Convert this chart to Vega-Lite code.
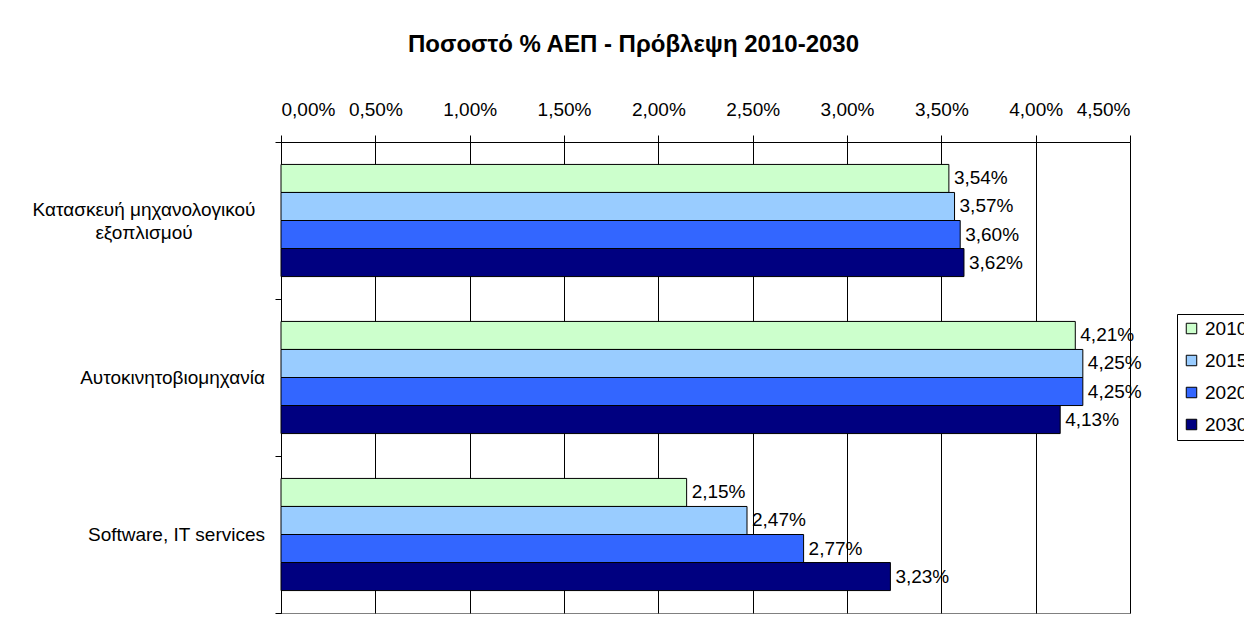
{
  "$schema": "https://vega.github.io/schema/vega-lite/v6.json",
  "width": 849,
  "height": 471,
  "autosize": {"type": "none"},
  "padding": {"left": 281, "top": 142, "right": 114, "bottom": 9},
  "background": "white",
  "config": {
    "font": "Liberation Sans",
    "locale": {"number": {"decimal": ",", "thousands": ".", "grouping": [3], "currency": ["", " €"]}},
    "view": {"stroke": "#808080", "strokeWidth": 1}
  },
  "title": {
    "text": "Ποσοστό % ΑΕΠ - Πρόβλεψη 2010-2030",
    "font": "Liberation Sans",
    "fontSize": 24,
    "fontWeight": "bold",
    "color": "#000000",
    "anchor": "middle",
    "dx": -72,
    "offset": 43
  },
  "datasets": {
    "bars": [
      {"sector": "Κατασκευή μηχανολογικού εξοπλισμού", "year": "2010", "value": 0.0354},
      {"sector": "Κατασκευή μηχανολογικού εξοπλισμού", "year": "2015", "value": 0.0357},
      {"sector": "Κατασκευή μηχανολογικού εξοπλισμού", "year": "2020", "value": 0.0360},
      {"sector": "Κατασκευή μηχανολογικού εξοπλισμού", "year": "2030", "value": 0.0362},
      {"sector": "Αυτοκινητοβιομηχανία", "year": "2010", "value": 0.0421},
      {"sector": "Αυτοκινητοβιομηχανία", "year": "2015", "value": 0.0425},
      {"sector": "Αυτοκινητοβιομηχανία", "year": "2020", "value": 0.0425},
      {"sector": "Αυτοκινητοβιομηχανία", "year": "2030", "value": 0.0413},
      {"sector": "Software, IT services", "year": "2010", "value": 0.0215},
      {"sector": "Software, IT services", "year": "2015", "value": 0.0247},
      {"sector": "Software, IT services", "year": "2020", "value": 0.0277},
      {"sector": "Software, IT services", "year": "2030", "value": 0.0323}
    ],
    "labels": [
      {"sector": "Κατασκευή μηχανολογικού εξοπλισμού", "label": "Κατασκευή μηχανολογικού\nεξοπλισμού", "wrap": "yes"},
      {"sector": "Αυτοκινητοβιομηχανία", "label": "Αυτοκινητοβιομηχανία", "wrap": "no"},
      {"sector": "Software, IT services", "label": "Software, IT services", "wrap": "no"}
    ]
  },
  "layer": [
    {
      "data": {"name": "bars"},
      "mark": {"type": "bar", "stroke": "#000000", "strokeWidth": 1},
      "encoding": {
        "y": {
          "field": "sector", "type": "nominal",
          "sort": ["Κατασκευή μηχανολογικού εξοπλισμού", "Αυτοκινητοβιομηχανία", "Software, IT services"],
          "scale": {"paddingInner": 0, "paddingOuter": 0},
          "axis": {
            "title": null, "labels": false, "tickBand": "extent", "tickSize": 6,
            "tickColor": "#000000", "domainColor": "#000000", "grid": false
          }
        },
        "yOffset": {
          "field": "year", "type": "nominal",
          "sort": ["2010", "2015", "2020", "2030"],
          "scale": {"paddingInner": 0, "paddingOuter": 0.8}
        },
        "x": {
          "field": "value", "type": "quantitative",
          "scale": {"domain": [0, 0.045], "nice": false},
          "axis": {
            "orient": "top", "title": null, "format": ".2%", "values": [0, 0.005, 0.01, 0.015, 0.02, 0.025, 0.03, 0.035, 0.04, 0.045],
            "labelFontSize": 19, "labelColor": "#000000", "labelFont": "Liberation Sans",
            "tickSize": 7, "tickColor": "#000000", "labelPadding": 16,
            "domainColor": "#000000", "grid": true, "gridColor": "#000000", "gridOpacity": 1
          }
        },
        "color": {
          "field": "year", "type": "nominal",
          "scale": {"domain": ["2010", "2015", "2020", "2030"], "range": ["#CCFFCC", "#99CCFF", "#3366FF", "#000080"]},
          "legend": {
            "title": null, "orient": "none", "legendX": 896, "legendY": 172,
            "symbolType": "square", "symbolSize": 110, "symbolStrokeColor": "#000000", "symbolStrokeWidth": 1,
            "labelFontSize": 19, "labelColor": "#000000", "labelFont": "Liberation Sans",
            "rowPadding": 12, "padding": 5, "strokeColor": "#000000", "fillColor": "white", "labelOffset": 4
          }
        }
      }
    },
    {
      "data": {"name": "bars"},
      "mark": {"type": "text", "align": "left", "baseline": "middle", "dx": 5, "fontSize": 19, "color": "#000000", "font": "Liberation Sans"},
      "encoding": {
        "y": {"field": "sector", "type": "nominal", "sort": ["Κατασκευή μηχανολογικού εξοπλισμού", "Αυτοκινητοβιομηχανία", "Software, IT services"]},
        "yOffset": {"field": "year", "type": "nominal", "sort": ["2010", "2015", "2020", "2030"]},
        "x": {"field": "value", "type": "quantitative"},
        "text": {"field": "value", "type": "quantitative", "format": ".2%"}
      }
    },
    {
      "data": {"name": "labels"},
      "transform": [{"filter": "datum.wrap == 'yes'"}],
      "mark": {"type": "text", "align": "center", "baseline": "middle", "dx": -137, "dy": -11, "fontSize": 19, "lineHeight": 23, "lineBreak": "\n", "color": "#000000", "font": "Liberation Sans"},
      "encoding": {
        "y": {"field": "sector", "type": "nominal", "sort": ["Κατασκευή μηχανολογικού εξοπλισμού", "Αυτοκινητοβιομηχανία", "Software, IT services"]},
        "x": {"datum": 0, "type": "quantitative"},
        "text": {"field": "label"}
      }
    },
    {
      "data": {"name": "labels"},
      "transform": [{"filter": "datum.wrap == 'no'"}],
      "mark": {"type": "text", "align": "right", "baseline": "middle", "dx": -16, "fontSize": 19, "color": "#000000", "font": "Liberation Sans"},
      "encoding": {
        "y": {"field": "sector", "type": "nominal", "sort": ["Κατασκευή μηχανολογικού εξοπλισμού", "Αυτοκινητοβιομηχανία", "Software, IT services"]},
        "x": {"datum": 0, "type": "quantitative"},
        "text": {"field": "label"}
      }
    }
  ]
}
